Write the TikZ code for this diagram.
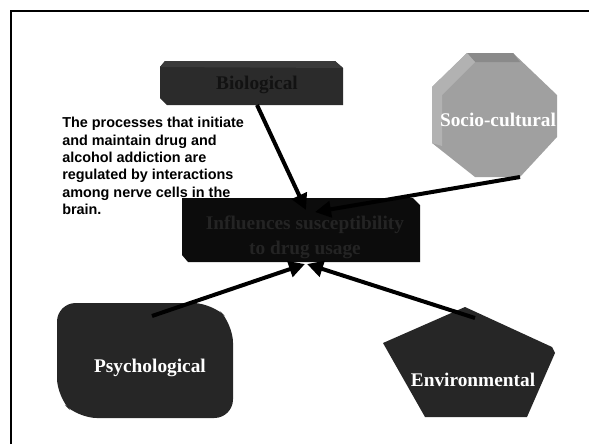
\documentclass[tikz,border=0pt]{standalone}
\usepackage{fontspec}
\setmainfont{Liberation Serif}
\newfontfamily\arialfont{Liberation Sans}
\usepackage{xcolor}
\usepackage{tikz}
\usetikzlibrary{arrows.meta}

\definecolor{boxdark}{HTML}{2B2B2B}
\definecolor{boxtop}{HTML}{3A3A3A}
\definecolor{boxblack}{HTML}{0C0C0C}
\definecolor{octgrey}{HTML}{A0A0A0}
\definecolor{octdark}{HTML}{8A8A8A}
\definecolor{octlight}{HTML}{B2B2B2}
\definecolor{shapegrey}{HTML}{262626}

\begin{document}
\begin{tikzpicture}[x=0.75pt,y=0.75pt,yscale=-1,xscale=1,
  link/.style={line width=3pt,-{Triangle[length=12pt,width=12pt]}},
  shapetext/.style={inner sep=0.75pt,align=center,font=\bfseries\fontsize{14.5}{18.75}\selectfont}]
\path[use as bounding box] (0,0) rectangle (589,444);

%Straight Lines
\draw [line width=1.5pt]  (11,444) -- (11,11) -- (589,11) ;

%Shape: Biological box
\fill [boxdark]  (165,61) -- (335,61) -- (343,68) -- (343,105) -- (167,105) -- (160,98) -- (160,67) -- cycle ;
\fill [boxtop]  (165,61) -- (335,61) -- (343,68) -- (160,67) -- cycle ;
%Shape: Socio-cultural octagon
\fill [octgrey]  (467,53) -- (513,53) -- (557,95) -- (557,137) -- (520,177) -- (475,177) -- (432,143) -- (432,87) -- cycle ;
\fill [octdark]  (467,53) -- (513,53) -- (520,62) -- (475,62) -- cycle ;
\fill [octlight]  (432,87) -- (467,53) -- (475,62) -- (442,95) -- (442,146) -- (432,143) -- cycle ;
%Shape: Influences box
\fill [boxblack]  (182,198) -- (413,198) -- (420,205) -- (420,262) -- (188,262) -- (182,255) -- cycle ;
%Shape: Psychological box
\fill [shapegrey, rounded corners=14]  (57,303) -- (212,303) -- (233,324) -- (233,418) -- (78,418) -- (57,397) -- cycle ;
%Shape: Environmental pentagon
\fill [shapegrey]  (465,307) -- (552,347) -- (555,353) -- (527,417) -- (425,417) -- (383,343) -- cycle ;

% Text Node
\node (bio) at (257,85) [shapetext, text=black!93] {Biological};
% Text Node
\node (socio) at (498,120) [shapetext, text=white] {Socio-cultural};
% Text Node
\node (infl) at (305,237) [shapetext, text=black!86] {Influences susceptibility\\to drug usage};
% Text Node
\node (psych) at (150,368) [shapetext, text=white] {Psychological};
% Text Node
\node (env) at (473,380) [shapetext, text=white] {Environmental};
% Text Node
\node (note) at (61,116) [anchor=north west, inner sep=0.75pt, align=left, font=\arialfont\bfseries\fontsize{10.8}{13}\selectfont] {The processes that initiate\\and maintain drug and\\alcohol addiction are\\regulated by interactions\\among nerve cells in the\\brain.};

% connector ends
\coordinate (bio-out) at (257,105);
\coordinate (socio-out) at (520,177);
\coordinate (psych-out) at (152,316);
\coordinate (env-out) at (475,318);
\coordinate (infl-top) at (306,210);
\coordinate (infl-topr) at (315,212);
\coordinate (infl-bot) at (305,264);
\coordinate (infl-botr) at (307,264);

%Straight Lines
\draw [link]  (bio-out) -- (infl-top) ;
\draw [link]  (socio-out) -- (infl-topr) ;
\draw [link]  (psych-out) -- (infl-bot) ;
\draw [link]  (env-out) -- (infl-botr) ;

\end{tikzpicture}
\end{document}
